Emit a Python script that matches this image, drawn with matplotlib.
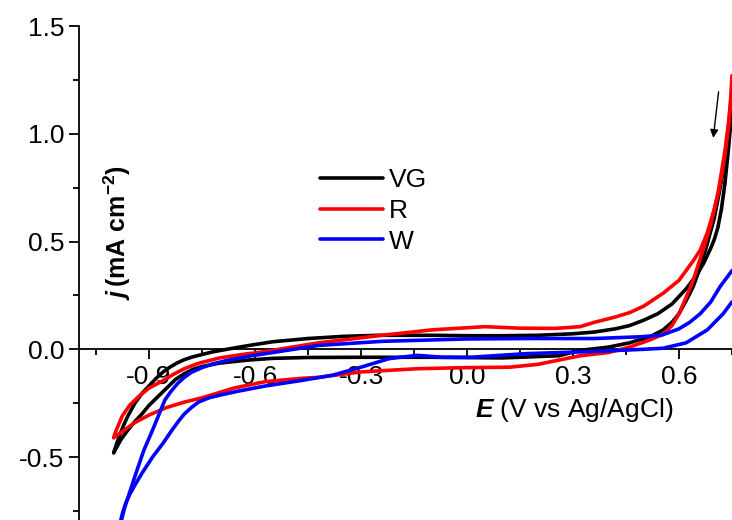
import matplotlib
matplotlib.use('Agg')
import matplotlib.pyplot as plt
from matplotlib.ticker import MultipleLocator

plt.rcParams['font.family'] = ['Liberation Sans', 'DejaVu Sans']
plt.rcParams['mathtext.fontset'] = 'custom'
plt.rcParams['mathtext.rm'] = 'Liberation Sans'
plt.rcParams['mathtext.it'] = 'Liberation Sans:italic'
plt.rcParams['mathtext.bf'] = 'Liberation Sans:bold'
plt.rcParams['mathtext.bfit'] = 'Liberation Sans:italic:bold'

# VG (black) - upper and lower branches of the CV loop
vg_up_E = [-1.00, -0.99, -0.98, -0.97, -0.96, -0.95, -0.94, -0.92, -0.90, -0.88, -0.86,
           -0.84, -0.82, -0.80, -0.78, -0.75, -0.72, -0.68, -0.62, -0.55, -0.45, -0.35,
           -0.25, -0.10, 0.00, 0.10, 0.20, 0.30, 0.36, 0.42, 0.46, 0.50, 0.54, 0.58, 0.62,
           0.65, 0.67, 0.69, 0.70, 0.71, 0.72, 0.73, 0.74, 0.75]
vg_up_j = [-0.48, -0.43, -0.385, -0.345, -0.31, -0.28, -0.25, -0.205, -0.17, -0.135, -0.105,
           -0.082, -0.063, -0.048, -0.037, -0.024, -0.012, 0.00, 0.017, 0.035, 0.05, 0.06,
           0.065, 0.065, 0.063, 0.063, 0.065, 0.072, 0.08, 0.095, 0.11, 0.135, 0.165, 0.21, 0.28,
           0.345, 0.40, 0.47, 0.51, 0.565, 0.65, 0.77, 0.93, 1.12]
vg_dn_E = [-1.00, -0.98, -0.96, -0.94, -0.92, -0.90, -0.875, -0.85, -0.825, -0.80, -0.775,
           -0.75, -0.70, -0.62, -0.55, -0.45, -0.30, -0.10, 0.10, 0.26, 0.32, 0.40, 0.46,
           0.52, 0.555, 0.58, 0.60, 0.62, 0.64, 0.66, 0.68, 0.70, 0.72, 0.74, 0.75]
vg_dn_j = [-0.48, -0.42, -0.375, -0.335, -0.30, -0.26, -0.22, -0.18, -0.14, -0.113, -0.093,
           -0.08, -0.064, -0.05, -0.042, -0.038, -0.037, -0.037, -0.04, -0.03, -0.005, 0.01,
           0.03, 0.06, 0.09, 0.125, 0.165, 0.225, 0.29, 0.38, 0.49, 0.61, 0.78, 0.98, 1.10]

# R (red)
r_up_E = [-1.00, -0.995, -0.985, -0.976, -0.955, -0.93, -0.90, -0.86, -0.83, -0.80, -0.76,
          -0.70, -0.64, -0.57, -0.42, -0.24, -0.10, 0.00, 0.05, 0.15, 0.25, 0.32, 0.36, 0.42,
          0.46, 0.50, 0.555, 0.60, 0.62, 0.64, 0.66, 0.68, 0.70, 0.71, 0.72, 0.73, 0.74,
          0.745, 0.75]
r_up_j = [-0.41, -0.385, -0.345, -0.31, -0.26, -0.22, -0.18, -0.145, -0.115, -0.09, -0.065,
          -0.04, -0.025, -0.01, 0.03, 0.065, 0.09, 0.10, 0.105, 0.098, 0.097, 0.105, 0.125, 0.15,
          0.17, 0.20, 0.26, 0.32, 0.365, 0.41, 0.46, 0.54, 0.65, 0.72, 0.80, 0.90, 1.03,
          1.12, 1.27]
r_dn_E = [-1.00, -0.97, -0.94, -0.90, -0.85, -0.80, -0.75, -0.66, -0.57, -0.47, -0.42,
          -0.30, -0.14, 0.00, 0.12, 0.20, 0.26, 0.32, 0.40, 0.46, 0.52, 0.555, 0.58, 0.60,
          0.62, 0.64, 0.67, 0.69, 0.71, 0.73, 0.74, 0.75]
r_dn_j = [-0.41, -0.375, -0.34, -0.305, -0.27, -0.245, -0.225, -0.18, -0.15, -0.135, -0.13,
          -0.105, -0.09, -0.085, -0.083, -0.07, -0.05, -0.03, -0.015, 0.01, 0.045, 0.07, 0.11,
          0.165, 0.24, 0.32, 0.47, 0.58, 0.72, 0.92, 1.05, 1.22]

# W (blue)
w_up_E = [-1.00, -0.985, -0.97, -0.955, -0.94, -0.915, -0.89, -0.855, -0.84, -0.82, -0.80,
          -0.78, -0.75, -0.72, -0.68, -0.61, -0.57, -0.42, -0.24, 0.00, 0.17, 0.36, 0.49,
          0.55, 0.60, 0.63, 0.66, 0.69, 0.716, 0.75]
w_up_j = [-0.97, -0.84, -0.74, -0.665, -0.59, -0.47, -0.375, -0.235, -0.20, -0.16, -0.13,
          -0.107, -0.085, -0.068, -0.052, -0.03, -0.02, 0.018, 0.037, 0.048, 0.05, 0.05, 0.058,
          0.065, 0.095, 0.125, 0.165, 0.22, 0.29, 0.365]
w_dn_E = [-1.00, -0.985, -0.975, -0.965, -0.955, -0.94, -0.92, -0.89, -0.86, -0.835, -0.815,
          -0.80, -0.78, -0.76, -0.73, -0.70, -0.65, -0.57, -0.47, -0.38, -0.30, -0.22, -0.14,
          -0.07, 0.01, 0.17, 0.36, 0.50, 0.555, 0.62, 0.68, 0.725, 0.75]
w_dn_j = [-0.95, -0.83, -0.76, -0.71, -0.675, -0.63, -0.575, -0.50, -0.435, -0.375, -0.33,
          -0.30, -0.27, -0.245, -0.225, -0.213, -0.195, -0.17, -0.145, -0.12, -0.083, -0.043,
          -0.028, -0.037, -0.037, -0.02, -0.01, 0.0, 0.005, 0.03, 0.09, 0.165, 0.22]

series = [('VG', 'black', vg_up_E, vg_up_j, vg_dn_E, vg_dn_j),
          ('R', '#ff0000', r_up_E, r_up_j, r_dn_E, r_dn_j),
          ('W', '#0000ff', w_up_E, w_up_j, w_dn_E, w_dn_j)]

fig = plt.figure(figsize=(7.32, 5.2), dpi=100)
ax = fig.add_axes([0.108, 0.0, 0.892, 0.95])

for name, col, ue, uj, de, dj in series:
    ax.plot(ue, uj, color=col, lw=2.6, label=name, zorder=3,
            solid_capstyle='round', solid_joinstyle='round')
    ax.plot(de, dj, color=col, lw=2.6, zorder=3,
            solid_capstyle='round', solid_joinstyle='round')

ax.set_xlim(-1.098, 0.75)
ax.set_ylim(-0.792, 1.5)

for s in ['top', 'right']:
    ax.spines[s].set_visible(False)
ax.spines['bottom'].set_position(('data', 0))
ax.spines['left'].set_linewidth(1.3)
ax.spines['bottom'].set_linewidth(1.3)

ax.xaxis.set_minor_locator(MultipleLocator(0.15))
ax.set_xticks([-0.9, -0.6, -0.3, 0.0, 0.3, 0.6])
ax.set_xticklabels(['-0.9', '-0.6', '-0.3', '0.0', '0.3', '0.6'])
ax.yaxis.set_minor_locator(MultipleLocator(0.25))
ax.set_yticks([-0.5, 0.0, 0.5, 1.0, 1.5])
ax.set_yticklabels(['-0.5', '0.0', '0.5', '1.0', '1.5'])

ax.tick_params(axis='both', which='major', direction='out', length=7.5, width=1.3, labelsize=19)
ax.tick_params(axis='both', which='minor', direction='out', length=4.5, width=1.3)
ax.tick_params(axis='x', which='major', pad=4)
ax.tick_params(axis='y', which='major', pad=3)

ax.text(0.303, -0.315, r'$\mathbfit{E}$ (V vs Ag/AgCl)', fontsize=19,
        ha='center', va='baseline')
ax.text(-0.99, 0.54, r'$\mathbfit{j}\,\mathbf{(mA\ cm^{-2})}$', fontsize=18,
        rotation=90, ha='center', va='center')

ax.annotate('', xy=(0.696, 0.968), xytext=(0.713, 1.208),
            arrowprops=dict(arrowstyle='-|>', color='black', lw=1.0, mutation_scale=12))

ax.legend(loc='center left', bbox_to_anchor=(0.369, 0.6255), frameon=False, fontsize=19,
          handlelength=2.4, handletextpad=0.2, labelspacing=0.25, borderpad=0,
          borderaxespad=0)

fig.savefig('out.png', dpi=100)
